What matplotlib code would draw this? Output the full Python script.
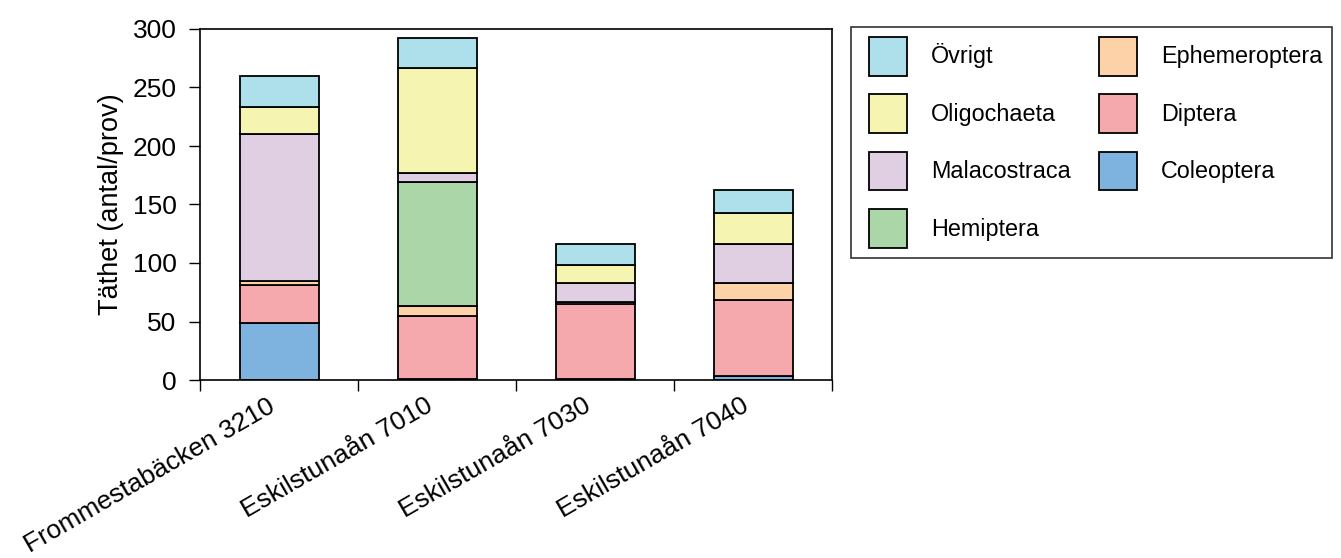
import numpy as np
import matplotlib.pyplot as plt
from matplotlib.patches import Rectangle
from matplotlib.legend_handler import HandlerPatch
from matplotlib.transforms import ScaledTranslation

plt.rcParams['font.family'] = ['Liberation Sans', 'DejaVu Sans']

sites = ["Frommestabäcken 3210", "Eskilstunaån 7010",
         "Eskilstunaån 7030", "Eskilstunaån 7040"]

# taxa from bottom of the stack to the top
coleoptera = [49, 1, 1, 3]
diptera = [32, 54, 64, 65]
ephemeroptera = [4, 8, 2, 15]
hemiptera = [0, 106, 0, 0]
malacostraca = [125, 8, 16, 33]
oligochaeta = [23, 90, 15, 27]
ovrigt = [27, 25, 18, 19]

layers = [
    ("Coleoptera", coleoptera, "#7eb3df"),
    ("Diptera", diptera, "#f5a9ad"),
    ("Ephemeroptera", ephemeroptera, "#fdd2a8"),
    ("Hemiptera", hemiptera, "#abd7a8"),
    ("Malacostraca", malacostraca, "#e0cee3"),
    ("Oligochaeta", oligochaeta, "#f5f4b0"),
    ("Övrigt", ovrigt, "#ade0ea"),
]

fig = plt.figure(figsize=(13.41, 5.58), dpi=100)
ax = fig.add_axes([200 / 1341, 1 - 380 / 558, 632 / 1341, 351 / 558])

x = np.arange(len(sites))
bottom = np.zeros(len(sites))
handles = {}
for name, vals, col in layers:
    vals = np.array(vals, dtype=float)
    b = ax.bar(x, vals, 0.5, bottom=bottom, color=col, edgecolor="black",
               linewidth=1.3, label=name)
    handles[name] = b.patches[0]
    bottom += vals

ax.set_xlim(-0.5, len(sites) - 0.5)
ax.set_ylim(0, 300)
ax.set_yticks(range(0, 301, 50))
ax.set_xticks(x)
ax.set_xticklabels(sites, rotation=30, ha="right", va="top",
                   rotation_mode="anchor")
ax.set_xticks(np.arange(-0.5, len(sites)), minor=True)
ax.tick_params(axis="x", which="major", length=0, pad=10, labelsize=19)
ax.tick_params(axis="x", which="minor", length=8, width=1)
ax.tick_params(axis="y", length=8, width=1, pad=9, labelsize=19)
ax.set_ylabel("Täthet (antal/prov)", fontsize=19.5, labelpad=6)
for s in ax.spines.values():
    s.set_linewidth(1.2)

# nudge the slanted site names a little to the left
shift = ScaledTranslation(-12 / 100, 0, fig.dpi_scale_trans)
for lab in ax.get_xticklabels():
    lab.set_transform(lab.get_transform() + shift)


# legend swatches sit a bit in from the left of their slot
def swatch(legend, orig_handle, xdescent, ydescent, width, height, fontsize):
    inset = 6.1
    return Rectangle((-xdescent + inset, -ydescent), width - inset, height)


order = ["Övrigt", "Oligochaeta", "Malacostraca", "Hemiptera",
         "Ephemeroptera", "Diptera", "Coleoptera"]
leg = fig.legend([handles[n] for n in order], order, ncol=2,
                 loc="upper left", bbox_to_anchor=(851 / 1341, 1 - 27 / 558),
                 fontsize=16.8, frameon=True, fancybox=False,
                 handler_map={Rectangle: HandlerPatch(patch_func=swatch)},
                 handlelength=1.99, handleheight=2.18, handletextpad=1.03,
                 labelspacing=0.8, columnspacing=0.83, borderpad=0.42,
                 borderaxespad=0)
leg.get_frame().set_edgecolor("black")
leg.get_frame().set_linewidth(1.2)

fig.savefig("out.png", dpi=100)
